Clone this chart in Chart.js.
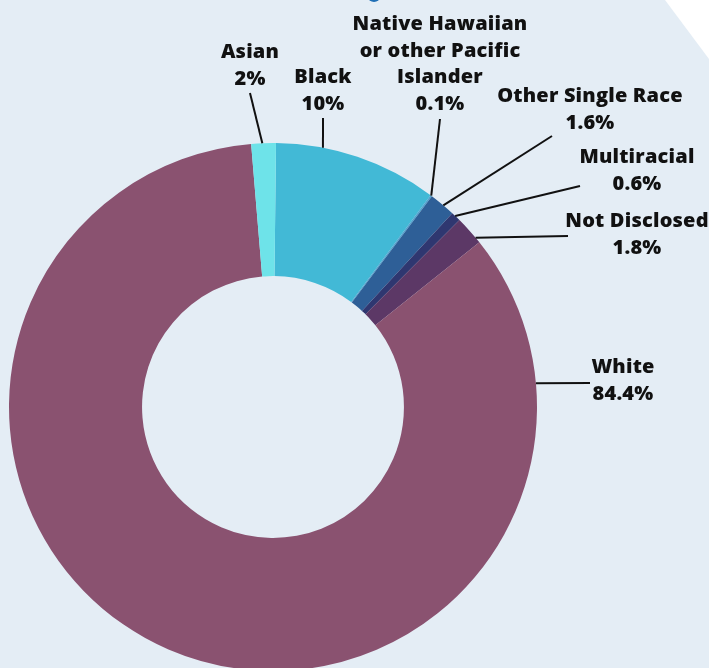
<!DOCTYPE html>
<html>
<head>
<meta charset="utf-8">
<script src="https://cdn.jsdelivr.net/npm/chart.js@4"></script>
<style>
  html, body { margin: 0; padding: 0; overflow: hidden; background: #e4edf5; }
  #wrap { width: 709px; height: 680px; }
</style>
</head>
<body>
<div id="wrap"><canvas id="race_chart" width="709" height="680"></canvas></div>
<script>
// categories, clockwise from the top
const race_categories = [
    ["Black"],
    ["Native Hawaiian", "or other Pacific", "Islander"],
    ["Other Single Race"],
    ["Multiracial"],
    ["Not Disclosed"],
    ["White"],
    ["Asian"]
];
// slice sizes as drawn (Asian slice looks ~1.5 although it is labelled 2%)
const race_values = [10, 0.1, 1.6, 0.6, 1.8, 84.4, 1.5];
const race_percent_labels = ["10%", "0.1%", "1.6%", "0.6%", "1.8%", "84.4%", "2%"];

const race_colors = ["#42b9d6", "#52a2cf", "#2e5f97", "#2f3770", "#5c3866", "#8a5270", "#6ee3e9"];

// where each callout sits: frac = point along slice where the leader starts
const label_layout = [
    { frac: 0.285, ex: 323, ey: 118, tx: 323, ty: 83 },
    { frac: 0.5,   ex: 440, ey: 119, tx: 440, ty: 30 },
    { frac: 0.55,  ex: 552, ey: 136, tx: 590, ty: 102 },
    { frac: 0.4,   ex: 580, ey: 186, tx: 637, ty: 163 },
    { frac: 0.8,   ex: 568, ey: 236, tx: 637, ty: 227 },
    { frac: 0.11,  ex: 590, ey: 383, tx: 623, ty: 373 },
    { frac: 0.45,  ex: 250, ey: 93,  tx: 250, ty: 58 }
];

const background_plugin = {
    id: "background_plugin",
    beforeDraw(chart) {
        const ctx = chart.ctx;
        ctx.save();
        ctx.fillStyle = "#e4edf5";
        ctx.fillRect(0, 0, chart.width, chart.height);
        // white corner top right
        ctx.fillStyle = "#ffffff";
        ctx.beginPath();
        ctx.moveTo(665, 0);
        ctx.lineTo(709, 0);
        ctx.lineTo(709, 59);
        ctx.closePath();
        ctx.fill();
        // bit of the title glyph peeking in
        ctx.fillStyle = "#1f6fb5";
        ctx.beginPath();
        ctx.ellipse(374, -3, 6, 5, 0, 0, Math.PI * 2);
        ctx.fill();
        ctx.restore();
    }
};

const callout_plugin = {
    id: "callout_plugin",
    afterDatasetsDraw(chart) {
        const ctx = chart.ctx;
        const arcs = chart.getDatasetMeta(0).data;
        ctx.save();
        ctx.strokeStyle = "#111111";
        ctx.lineWidth = 2;
        ctx.fillStyle = "#111111";
        ctx.textAlign = "center";
        ctx.textBaseline = "alphabetic";
        ctx.font = "800 20px 'Open Sans', sans-serif";
        ctx.letterSpacing = "0.2px";
        arcs.forEach((arc, i) => {
            const p = arc.getProps(["x", "y", "startAngle", "endAngle", "outerRadius"], true);
            const lay = label_layout[i];
            const a = p.startAngle + (p.endAngle - p.startAngle) * lay.frac;
            const sx = p.x + Math.cos(a) * p.outerRadius;
            const sy = p.y + Math.sin(a) * p.outerRadius;
            ctx.beginPath();
            ctx.moveTo(sx, sy);
            ctx.lineTo(lay.ex, lay.ey);
            ctx.stroke();
            const lines = race_categories[i].concat([race_percent_labels[i]]);
            lines.forEach((txt, j) => {
                ctx.fillText(txt, lay.tx, lay.ty + j * 26.5);
            });
        });
        ctx.restore();
    }
};

const race_chart = new Chart("race_chart",
{
    type: "doughnut",
    data:
    {
        labels: race_categories,
        datasets:
        [
            {
                data: race_values,
                backgroundColor: race_colors,
                borderWidth: 0
            }
        ]
    },
    options:
    {
        responsive: false,
        animation: false,
        events: [],
        cutout: "49.6%",
        rotation: 0.65,
        layout:
        {
            padding: { left: 9, top: 143, right: 172, bottom: 9 }
        },
        plugins:
        {
            legend: { display: false },
            tooltip: { enabled: false }
        }
    },
    plugins: [background_plugin, callout_plugin]
});
</script>
</body>
</html>
